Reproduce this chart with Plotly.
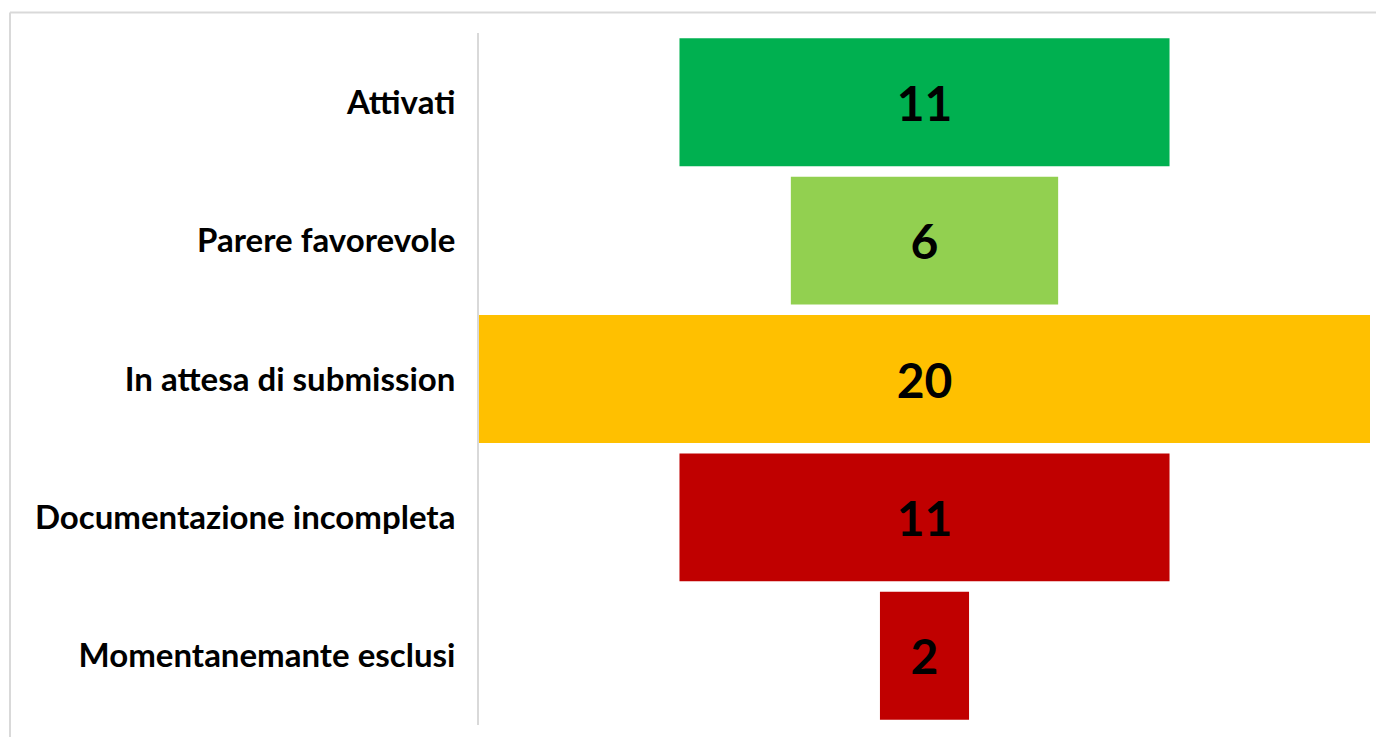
import plotly.graph_objects as go

categories = ["Attivati", "Parere favorevole", "In attesa di submission",
              "Documentazione incompleta", "Momentanemante esclusi"]
values = [11, 6, 20, 11, 2]
colors = ["#00B050", "#92D050", "#FFC000", "#C00000", "#C00000"]

OFF = 8  # page body margin
W, H = 1384 - OFF, 737 - OFF
L, R, T, B = 479 - OFF, 14, 33 - OFF, 12
pw, ph = W - L - R, H - T - B

fig = go.Figure(go.Funnel(
    y=categories, x=values,
    marker=dict(color=colors, line=dict(width=0)),
    connector=dict(visible=False),
    textposition="inside", textinfo="value",
    textfont=dict(family="Lato", size=48, color="black", weight="bold"),
    insidetextfont=dict(family="Lato", size=48, color="black", weight="bold"),
    constraintext="none",
))

def px_x(p): return (p - OFF - L) / pw
def px_y(p): return (H - B - (p - OFF)) / ph

fig.update_layout(
    width=W, height=H,
    margin=dict(l=L, r=R, t=T, b=B),
    paper_bgcolor="white", plot_bgcolor="white",
    funnelgap=0.076,
    showlegend=False,
    xaxis=dict(visible=False, range=[-10, 10], fixedrange=True),
    yaxis=dict(showline=True, linecolor="#d9d9d9", linewidth=2,
               showgrid=False, ticks="", ticklabelstandoff=15,
               tickfont=dict(family="Lato", size=33, color="black", weight="bold")),
    shapes=[
        dict(type="line", xref="paper", yref="paper",
             x0=px_x(10), x1=px_x(1384 + 5), y0=px_y(12.5), y1=px_y(12.5),
             line=dict(color="#d9d9d9", width=2)),
        dict(type="line", xref="paper", yref="paper",
             x0=px_x(10), x1=px_x(10), y0=px_y(12.5), y1=px_y(737 + 5),
             line=dict(color="#d9d9d9", width=2)),
    ],
)

fig.write_html("out.html", config={"displayModeBar": False})
